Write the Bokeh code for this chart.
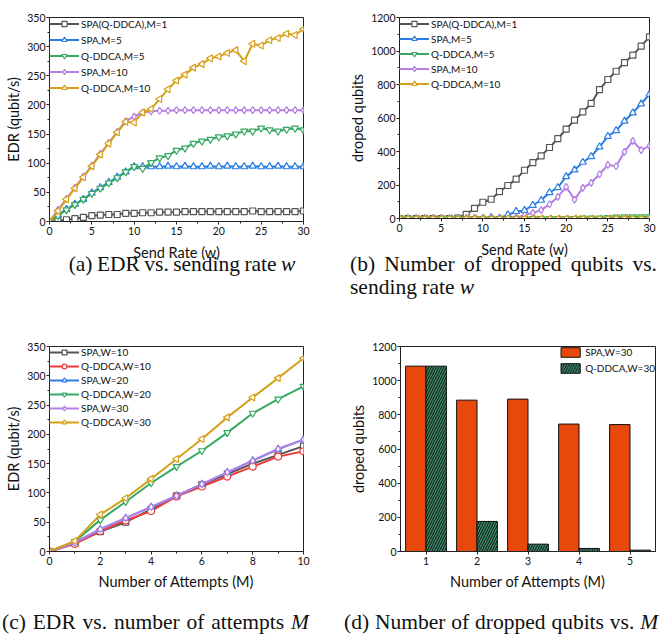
from bokeh.plotting import figure
from bokeh.models import FixedTicker, Legend, LegendItem, Div, Range1d, ColumnDataSource
from bokeh.layouts import column, row
from bokeh.transform import dodge
from bokeh.embed import file_html
from bokeh.resources import INLINE
import math

# ---------------- data ----------------
send_rate = [0, 1, 2, 3, 4, 5, 6, 7, 8, 9, 10, 11, 12, 13, 14, 15, 16, 17, 18, 19, 20,
             21, 22, 23, 24, 25, 26, 27, 28, 29, 30]

edr_spa_m1 = [0, 1, 3, 5, 7, 10, 11, 12, 12, 14, 14, 15, 15, 16, 16, 16, 17, 17, 17, 17, 17,
              17, 17, 17, 18, 17, 17, 17, 17, 17, 18]
edr_spa_m5 = [0, 11, 21, 30, 38, 49, 58, 67, 76, 85, 94, 94, 94, 94, 95, 94, 95, 94, 94, 95, 94,
              95, 94, 94, 95, 94, 94, 95, 94, 94, 94]
edr_qddca_m5 = [0, 10, 20, 29, 38, 48, 57, 66, 75, 85, 94, 91, 101, 109, 113, 122, 126, 134, 138, 141, 145,
                147, 150, 155, 155, 160, 157, 155, 158, 160, 157]
edr_spa_m10 = [0, 20, 39, 58, 77, 96, 116, 135, 154, 172, 180, 187, 189, 190, 190, 191, 191, 191, 191, 191, 191,
               191, 191, 191, 191, 191, 191, 191, 191, 191, 191]
edr_qddca_m10 = [0, 18, 38, 57, 76, 95, 115, 134, 153, 171, 170, 187, 193, 210, 227, 242, 252, 264, 270, 280, 283,
                 289, 294, 275, 305, 302, 311, 315, 322, 320, 330]

drop_spa_m1 = [0, 0, 0, 0, 0, 0, 0, 3, 25, 60, 97, 115, 160, 197, 235, 288, 334, 374, 424, 477, 533,
               587, 636, 687, 770, 830, 879, 931, 975, 1029, 1084]
drop_spa_m5 = [0, 0, 0, 0, 0, 0, 0, 0, 0, 0, 0, 5, 3, 22, 42, 48, 79, 109, 155, 185, 250,
               290, 336, 370, 428, 491, 525, 581, 631, 684, 742]
drop_qddca_m5 = [0, 0, 0, 0, 0, 0, 0, 0, 0, 0, 0, 0, 0, 0, 0, 0, 0, 0, 0, 0, 0,
                 0, 2, 3, 3, 5, 8, 10, 10, 10, 10]
drop_spa_m10 = [0, 0, 0, 0, 0, 0, 0, 0, 0, 0, 0, 0, 0, 0, 5, 20, 34, 50, 85, 129, 189,
                113, 183, 213, 264, 320, 312, 398, 463, 408, 434]
drop_qddca_m10 = [0, 0, 0, 0, 0, 0, 0, 0, 0, 0, 0, 0, 0, 0, 0, 0, 0, 0, 0, 0, 0,
                  0, 0, 0, 0, 0, 0, 0, 0, 0, 0]

attempts = [0, 1, 2, 3, 4, 5, 6, 7, 8, 9, 10]
edr_spa_w10 = [0, 14, 34, 50, 72, 95, 114, 132, 150, 165, 180]
edr_qddca_w10 = [0, 13, 35, 53, 69, 94, 111, 128, 145, 162, 171]
edr_spa_w20 = [0, 15, 38, 57, 76, 95, 115, 135, 155, 175, 191]
edr_qddca_w20 = [0, 17, 54, 85, 117, 145, 172, 203, 236, 260, 282]
edr_spa_w30 = [0, 15, 38, 57, 76, 95, 115, 135, 155, 175, 191]
edr_qddca_w30 = [0, 18, 63, 91, 124, 158, 192, 229, 263, 296, 330]

bar_attempts = [1, 2, 3, 4, 5]
bar_spa_w30 = [1085, 886, 892, 746, 743]
bar_qddca_w30 = [1085, 176, 43, 18, 8]

labels_a = ["SPA(Q-DDCA),M=1", "SPA,M=5", "Q-DDCA,M=5", "SPA,M=10", "Q-DDCA,M=10"]
labels_c = ["SPA,W=10", "Q-DDCA,W=10", "SPA,W=20", "Q-DDCA,W=20", "SPA,W=30", "Q-DDCA,W=30"]
labels_d = ["SPA,W=30", "Q-DDCA,W=30"]

# ---------------- style ----------------
FONT = "Lato"
GRAY = "#555555"
BLUE = "#2A7DE1"
GREEN = "#35A862"
PURPLE = "#B57EE5"
GOLD = "#D6A01A"
RED = "#F03C3C"
AXC = "#222222"
BOTTOM = 55


def make_fig(fw, fh, left, right, top, xr, yr):
    p = figure(frame_width=fw, frame_height=fh, x_range=xr, y_range=yr, output_backend="svg",
               toolbar_location=None, min_border_left=left, min_border_right=right,
               min_border_top=top, min_border_bottom=BOTTOM)
    p.xgrid.visible = False
    p.ygrid.visible = False
    p.outline_line_color = AXC
    p.outline_line_alpha = 1
    p.background_fill_color = "white"
    p.border_fill_color = "white"
    for ax in [p.xaxis[0], p.yaxis[0]]:
        ax.axis_line_color = AXC
        ax.major_tick_line_color = AXC
        ax.minor_tick_line_color = AXC
        ax.major_tick_in = 0
        ax.major_tick_out = 3
        ax.minor_tick_in = 0
        ax.minor_tick_out = 2
        ax.major_label_text_font = FONT
        ax.major_label_text_font_size = "10.5px"
        ax.major_label_text_color = "#111111"
        ax.axis_label_text_font = FONT
        ax.axis_label_text_font_size = "14.5px"
        ax.axis_label_text_font_style = "normal"
        ax.axis_label_text_color = "#111111"
    p.yaxis[0].major_label_standoff = 1
    p.yaxis[0].axis_label_standoff = 2
    p.xaxis[0].major_label_standoff = 2
    p.xaxis[0].axis_label_standoff = 6
    p.margin = (0, 0, 0, 0)
    return p


def series(p, x, y, color, marker, angle=0.0, size=7):
    r1 = p.line(x, y, line_color=color, line_width=2, line_join="round")
    r2 = p.scatter(x, y, marker=marker, size=size, angle=angle, line_color=color,
                   fill_color="white", line_width=1.2)
    return [r1, r2]


def legend(p, items, loc, gh, spacing, padding, gw=30):
    lg = Legend(items=[LegendItem(label=l, renderers=r) for l, r in items], location=loc,
                margin=0, padding=padding, spacing=spacing, glyph_width=gw, glyph_height=gh,
                label_height=gh, label_standoff=2, label_text_font=FONT,
                label_text_font_size="10px", label_text_color="#111111",
                border_line_color=None, background_fill_alpha=0)
    p.add_layout(lg)


LEFT_TRI = math.pi / 2

# ---------------- (a) ----------------
pa = make_fig(254, 204, 49, 37, 13, Range1d(0, 30), Range1d(0, 350))
pa.xaxis[0].ticker = FixedTicker(ticks=[0, 5, 10, 15, 20, 25, 30],
                                 minor_ticks=[2.5, 7.5, 12.5, 17.5, 22.5, 27.5])
pa.yaxis[0].ticker = FixedTicker(ticks=[0, 50, 100, 150, 200, 250, 300, 350],
                                 minor_ticks=[25, 75, 125, 175, 225, 275, 325])
pa.xaxis[0].axis_label = "Send Rate (w)"
pa.yaxis[0].axis_label = "EDR (qubit/s)"
ra = [series(pa, send_rate, edr_spa_m1, GRAY, "square", size=6),
      series(pa, send_rate, edr_spa_m5, BLUE, "triangle"),
      series(pa, send_rate, edr_qddca_m5, GREEN, "inverted_triangle"),
      series(pa, send_rate, edr_spa_m10, PURPLE, "diamond"),
      series(pa, send_rate, edr_qddca_m10, GOLD, "triangle", angle=LEFT_TRI)]
legend(pa, list(zip(labels_a, ra)), "top_left", 13, 3, 4)

# ---------------- (b) ----------------
pb = make_fig(250, 201, 59, 8, 17, Range1d(0, 30), Range1d(0, 1200))
pb.xaxis[0].ticker = FixedTicker(ticks=[0, 5, 10, 15, 20, 25, 30],
                                 minor_ticks=[2.5, 7.5, 12.5, 17.5, 22.5, 27.5])
pb.yaxis[0].ticker = FixedTicker(ticks=[0, 200, 400, 600, 800, 1000, 1200],
                                 minor_ticks=[100, 300, 500, 700, 900, 1100])
pb.xaxis[0].axis_label = "Send Rate (w)"
pb.yaxis[0].axis_label = "droped qubits"
rb = [series(pb, send_rate, drop_spa_m1, GRAY, "square", size=6),
      series(pb, send_rate, drop_spa_m5, BLUE, "triangle"),
      series(pb, send_rate, drop_qddca_m5, GREEN, "inverted_triangle"),
      series(pb, send_rate, drop_spa_m10, PURPLE, "diamond"),
      series(pb, send_rate, drop_qddca_m10, GOLD, "triangle", angle=LEFT_TRI)]
legend(pb, list(zip(labels_a, rb)), "top_left", 13, 2, 5)

# ---------------- (c) ----------------
pc = make_fig(254, 205, 49, 37, 46, Range1d(0, 10), Range1d(0, 350))
pc.xaxis[0].ticker = FixedTicker(ticks=[0, 2, 4, 6, 8, 10], minor_ticks=[1, 3, 5, 7, 9])
pc.yaxis[0].ticker = FixedTicker(ticks=[0, 50, 100, 150, 200, 250, 300, 350],
                                 minor_ticks=[25, 75, 125, 175, 225, 275, 325])
pc.xaxis[0].axis_label = "Number of Attempts (M)"
pc.yaxis[0].axis_label = "EDR (qubit/s)"
pc.xaxis[0].axis_label_standoff = 5
rc = [series(pc, attempts, edr_spa_w10, GRAY, "square", size=6),
      series(pc, attempts, edr_qddca_w10, RED, "circle", size=7),
      series(pc, attempts, edr_spa_w20, BLUE, "triangle"),
      series(pc, attempts, edr_qddca_w20, GREEN, "inverted_triangle"),
      series(pc, attempts, edr_spa_w30, PURPLE, "diamond"),
      series(pc, attempts, edr_qddca_w30, GOLD, "triangle", angle=LEFT_TRI)]
legend(pc, list(zip(labels_c, rc)), "top_left", 12, 2, 3)

# ---------------- (d) ----------------
pd_ = make_fig(255, 205, 60, 2, 46, Range1d(0.5, 5.5), Range1d(0, 1200))
pd_.xaxis[0].ticker = FixedTicker(ticks=[1, 2, 3, 4, 5], minor_ticks=[])
pd_.yaxis[0].ticker = FixedTicker(ticks=[0, 200, 400, 600, 800, 1000, 1200],
                                  minor_ticks=[100, 300, 500, 700, 900, 1100])
pd_.xaxis[0].axis_label = "Number of Attempts (M)"
pd_.yaxis[0].axis_label = "droped qubits"
pd_.xaxis[0].axis_label_standoff = 5
src = ColumnDataSource(dict(m=bar_attempts, spa=bar_spa_w30, qd=bar_qddca_w30))
b1 = pd_.vbar(x=dodge("m", -0.2, range=pd_.x_range), top="spa", width=0.4, source=src,
              fill_color="#E8480C", line_color="#111111", line_width=1)
b2 = pd_.vbar(x=dodge("m", 0.2, range=pd_.x_range), top="qd", width=0.4, source=src,
              fill_color="#3A8A6A", line_color="#111111", line_width=1,
              hatch_pattern="/", hatch_color="#111111", hatch_weight=1, hatch_scale=5)
lgd = Legend(items=[LegendItem(label=labels_d[0], renderers=[b1]),
                    LegendItem(label=labels_d[1], renderers=[b2])],
             location="top_right", margin=0, padding=4, spacing=4, glyph_width=24,
             glyph_height=12, label_height=12, label_standoff=3, label_text_font=FONT,
             label_text_font_size="10px", label_text_color="#111111",
             border_line_color=None, background_fill_alpha=0)
pd_.add_layout(lgd)

# ---------------- captions ----------------
SERIF = ("font-family:'Liberation Serif','Times New Roman',serif;font-size:21.5px;color:#111;"
         "line-height:23px;position:relative;")


def cap(html, w, h, style):
    return Div(text=f'<div style="{SERIF}{style}">{html}</div>', width=w, height=h,
               margin=(0, 0, 0, 0))


ca = cap("(a) EDR vs. sending rate <i>w</i>", 340, 27,
         "top:-20px;left:12px;width:340px;text-align:center;white-space:nowrap;word-spacing:-1px;")
cb = Div(text=(f'<div style="{SERIF}top:-20px;left:10px;width:307px;text-align:justify;'
               f'text-align-last:justify;">(b) Number of dropped qubits vs.</div>'
               f'<div style="{SERIF}top:-20px;left:10px;width:307px;white-space:nowrap;">'
               f'<span>sending rate</span> <i>w</i></div>'),
         width=325, height=27, margin=(0, 0, 0, 0))
cc = cap("(c) EDR vs. number of attempts <i>M</i>", 340, 29,
         "top:5px;left:2px;white-space:nowrap;word-spacing:1.5px;")
cd = cap("(d) Number of dropped qubits vs. <i>M</i>", 325, 29,
         "top:5px;left:4px;white-space:nowrap;word-spacing:0.5px;")

layout = column(row(pa, pb), row(ca, cb), row(pc, pd_), row(cc, cd))

open("out.html", "w").write(file_html(layout, INLINE))
